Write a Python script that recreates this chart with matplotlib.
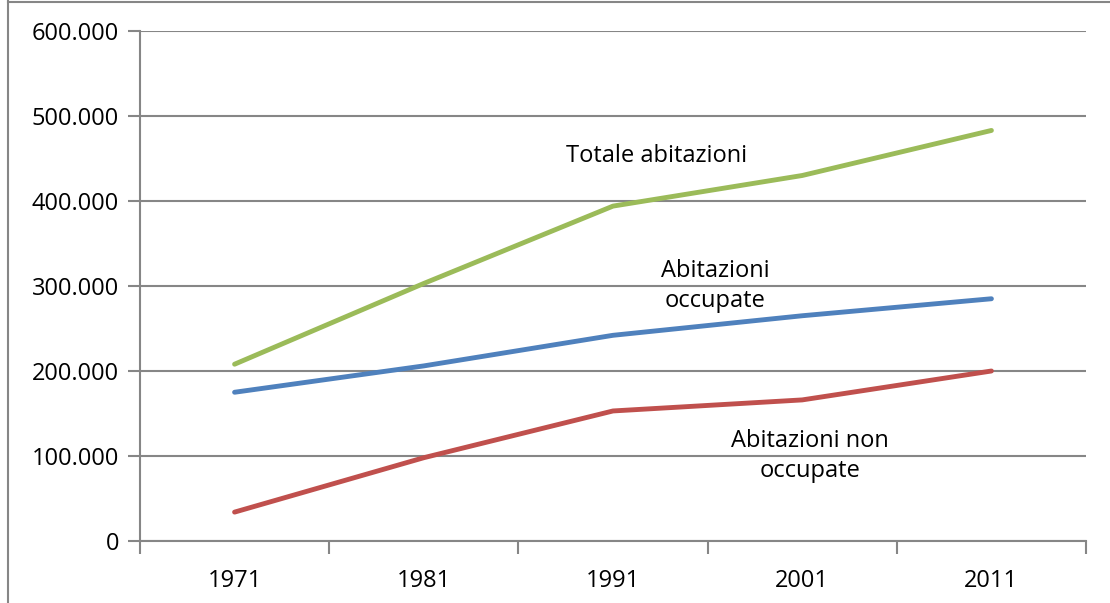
import numpy as np
import matplotlib.pyplot as plt
from matplotlib.lines import Line2D
from matplotlib.ticker import FuncFormatter

anni = ['1971', '1981', '1991', '2001', '2011']
totale = [208000, 303000, 394000, 430000, 483000]
occupate = [175000, 206000, 242000, 265000, 285000]
non_occupate = [34000, 98000, 153000, 166000, 200000]

plt.rcParams['font.family'] = ['Open Sans', 'DejaVu Sans']
grigio = '#868686'

fig = plt.figure(figsize=(11.1, 6.03), dpi=100)
ax = fig.add_axes([0.1261, 0.1028, 0.8523, 0.8458])

x = np.arange(len(anni))
ax.plot(x, totale, color='#9BBB59', lw=3.5, solid_capstyle='round', zorder=3)
ax.plot(x, occupate, color='#4F81BD', lw=3.5, solid_capstyle='round', zorder=3)
ax.plot(x, non_occupate, color='#C0504D', lw=3.5, solid_capstyle='round', zorder=3)

ax.set_xlim(-0.5, len(anni) - 0.5)
ax.set_ylim(0, 600000)
ax.set_yticks(np.arange(0, 600001, 100000))
ax.yaxis.set_major_formatter(FuncFormatter(lambda v, p: f'{int(v):,}'.replace(',', '.')))
ax.set_xticks(x)
ax.set_xticklabels(anni)
ax.set_xticks(np.arange(-0.5, len(anni), 1.0), minor=True)

ax.grid(axis='y', color=grigio, lw=1.5)
ax.set_axisbelow(True)
for s in ['top', 'right']:
    ax.spines[s].set_visible(False)
for s in ['left', 'bottom']:
    ax.spines[s].set_color(grigio)
    ax.spines[s].set_linewidth(1.5)

ax.tick_params(axis='y', length=9, width=1.5, color=grigio, labelsize=17, pad=6)
ax.tick_params(axis='x', which='major', length=0, labelsize=17, pad=20)
ax.tick_params(axis='x', which='minor', length=9, width=1.5, color=grigio)

ax.text(2.23, 453000, 'Totale abitazioni', fontsize=17, ha='center', va='center')
ax.text(2.54, 300000, 'Abitazioni\noccupate', fontsize=17, ha='center', va='center', linespacing=1.35)
ax.text(3.04, 100000, 'Abitazioni non\noccupate', fontsize=17, ha='center', va='center', linespacing=1.35)

# bordo dell'immagine (sinistra e in alto)
fig.add_artist(Line2D([8 / 1110, 8 / 1110], [0, 1], transform=fig.transFigure, color=grigio, lw=1.5))
fig.add_artist(Line2D([8 / 1110, 1], [1 - 1.5 / 603, 1 - 1.5 / 603], transform=fig.transFigure, color=grigio, lw=1.5))

fig.savefig('out.png', dpi=100)
